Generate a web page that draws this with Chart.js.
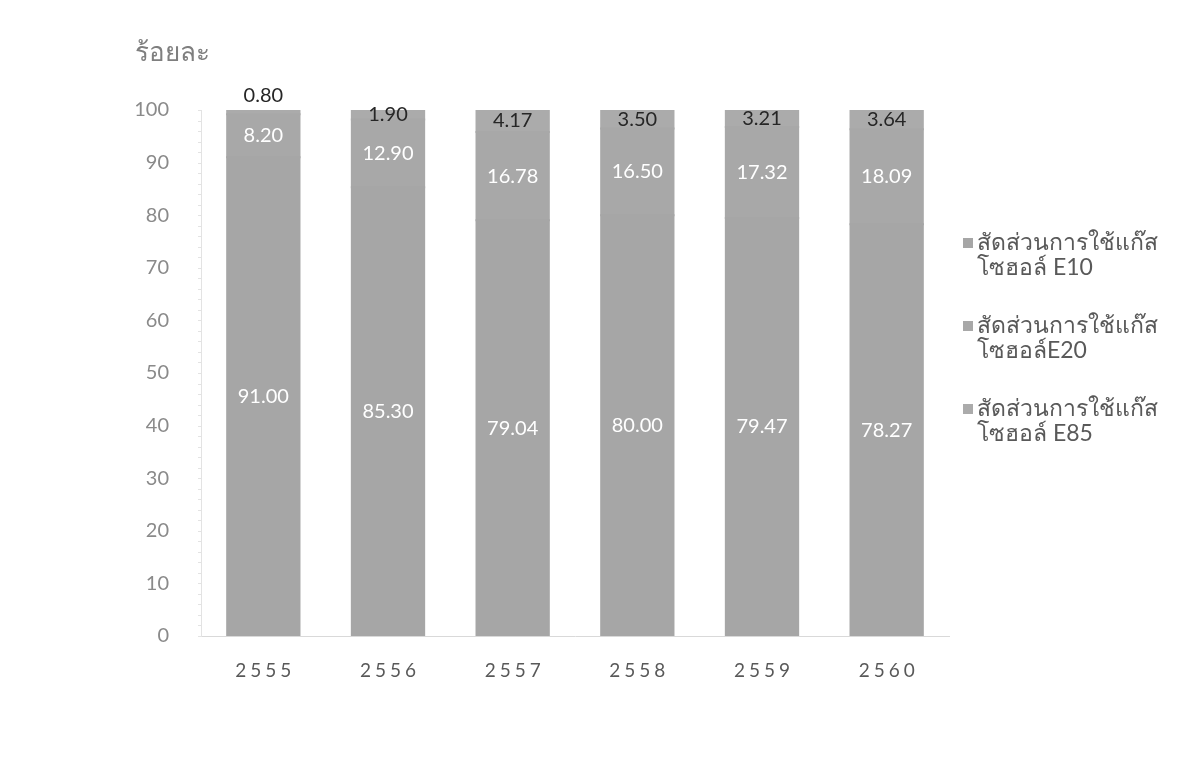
<!DOCTYPE html>
<html>
<head>
<meta charset="utf-8">
<script src="https://cdn.jsdelivr.net/npm/chart.js@4/dist/chart.umd.min.js"></script>
<style>
  html, body { margin: 0; padding: 0; background: #fff; }
  #wrap { position: relative; width: 1198px; height: 760px; }
  #legend { position: absolute; left: 961px; top: 229px; font-family: Lato, "Noto Sans", sans-serif; }
  .item { position: relative; padding-left: 16px; font-size: 23px; line-height: 25px; color: #595959; margin-bottom: 33px; white-space: nowrap; }
  .item span.box { position: absolute; left: 2px; top: 9px; width: 10px; height: 10px; }
</style>
</head>
<body>
<div id="wrap">
  <canvas id="bar-chart" width="1198" height="760"></canvas>
  <div id="legend"></div>
</div>
<script>
const years = ['2555', '2556', '2557', '2558', '2559', '2560'];
const e10 = [91.00, 85.30, 79.04, 80.00, 79.47, 78.27];
const e20 = [8.20, 12.90, 16.78, 16.50, 17.32, 18.09];
const e85 = [0.80, 1.90, 4.17, 3.50, 3.21, 3.64];
const yTicks = [0, 10, 20, 30, 40, 50, 60, 70, 80, 90, 100];
const seriesNames = [
  ['สัดส่วนการใช้แก๊ส', 'โซฮอล์ E10'],
  ['สัดส่วนการใช้แก๊ส', 'โซฮอล์E20'],
  ['สัดส่วนการใช้แก๊ส', 'โซฮอล์ E85']
];
const fontFam = 'Lato, "Noto Sans", sans-serif';

let sE10 = {
  label: seriesNames[0].join(' '),
  data: e10,
  backgroundColor: '#a6a6a6',
  labelColor: '#ffffff'
};
let sE20 = {
  label: seriesNames[1].join(' '),
  data: e20,
  backgroundColor: '#a8a8a8',
  labelColor: '#ffffff'
};
let sE85 = {
  label: seriesNames[2].join(' '),
  data: e85,
  backgroundColor: '#ababab',
  labelColor: '#262626'
};

// value labels, axis title and letter-spaced year labels
const extras = {
  id: 'extras',
  afterDatasetsDraw(chart) {
    const ctx = chart.ctx;
    ctx.save();
    ctx.font = '20px ' + fontFam;
    ctx.textAlign = 'center';
    ctx.textBaseline = 'middle';
    chart.data.datasets.forEach((ds, di) => {
      chart.getDatasetMeta(di).data.forEach((bar, i) => {
        const h = Math.abs(bar.base - bar.y);
        let y = (bar.y + bar.base) / 2;
        if (h < 8) y = bar.y - 14;
        ctx.fillStyle = ds.labelColor;
        ctx.fillText(ds.data[i].toFixed(2), bar.x, y);
      });
    });
    ctx.restore();
  },
  afterDraw(chart) {
    const ctx = chart.ctx;
    const xs = chart.scales.x;
    const ys = chart.scales.y;
    ctx.save();
    ctx.fillStyle = '#7f7f7f';
    ctx.font = '26px ' + fontFam;
    ctx.textBaseline = 'middle';
    ctx.fillText('ร้อยละ', 135, 53);
    // minor marks on the value axis
    ctx.strokeStyle = '#e3e3e3';
    ctx.lineWidth = 1;
    for (let v = 0; v <= 100; v += 2) {
      const py = Math.round(ys.getPixelForValue(v)) + 0.5;
      ctx.beginPath();
      ctx.moveTo(ys.right - 3, py);
      ctx.lineTo(ys.right + 1, py);
      ctx.stroke();
    }
    ctx.fillStyle = '#595959';
    ctx.font = '19px ' + fontFam;
    ctx.textAlign = 'center';
    ctx.letterSpacing = '4px';
    years.forEach((yr, i) => {
      ctx.fillText(yr, xs.getPixelForTick(i) + 2, 671);
    });
    ctx.restore();
  }
};

const data = {
  labels: years,
  datasets: [sE10, sE20, sE85]
};

const config = {
  type: 'bar',
  data: data,
  plugins: [extras],
  options: {
    responsive: false,
    animation: false,
    layout: { padding: { left: 0, right: 249, top: 110, bottom: 0 } },
    datasets: { bar: { barPercentage: 0.58, categoryPercentage: 1.0, borderWidth: 0, inflateAmount: 1 } },
    scales: {
      x: {
        stacked: true,
        grid: { display: false },
        border: { color: '#d9d9d9' },
        ticks: { display: false },
        afterFit(scale) { scale.height = 124; }
      },
      y: {
        stacked: true,
        min: 0,
        max: 100,
        afterBuildTicks(scale) { scale.ticks = yTicks.map(v => ({ value: v })); },
        grid: { display: false },
        border: { color: '#e3e3e3' },
        ticks: {
          color: '#8a8a8a',
          padding: 24,
          font: { size: 20, family: fontFam }
        },
        afterFit(scale) { scale.width = 201; }
      }
    },
    plugins: {
      legend: { display: false },
      tooltip: { enabled: false }
    }
  }
};

const myChart = new Chart(document.getElementById('bar-chart'), config);

// legend built from the chart's datasets (two lines each, like the original)
const legendBox = document.getElementById('legend');
myChart.data.datasets.forEach((ds, i) => {
  const item = document.createElement('div');
  item.className = 'item';
  const box = document.createElement('span');
  box.className = 'box';
  box.style.background = ds.backgroundColor;
  item.appendChild(box);
  seriesNames[i].forEach((line, k) => {
    if (k > 0) item.appendChild(document.createElement('br'));
    item.appendChild(document.createTextNode(line));
  });
  legendBox.appendChild(item);
});
</script>
</body>
</html>
